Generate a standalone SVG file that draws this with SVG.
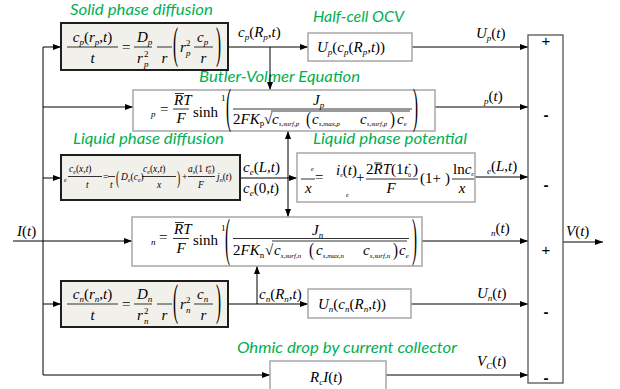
<svg xmlns="http://www.w3.org/2000/svg" width="620" height="389" viewBox="0 0 620 389">
<defs>
<marker id="ah" markerUnits="userSpaceOnUse" markerWidth="8" markerHeight="6" refX="8" refY="3" orient="auto"><path d="M0,0 L8,3 L0,6 z" fill="#000"/></marker>
<style>
.thick{fill:#f1f0eb;stroke:#1e1e1e;stroke-width:2}
.gbox{fill:#fff;stroke:#a6a6a6;stroke-width:1.5}
.sum{fill:#fff;stroke:#555;stroke-width:1.3}
.c{fill:none;stroke:#000;stroke-width:1}
.fl{stroke:#000;stroke-width:0.8}
.g{font-family:Lato,"Open Sans",sans-serif;font-style:italic;font-size:16px;fill:#00b050}
.m{font-family:"Liberation Serif",serif;font-style:italic;font-size:15px;fill:#000}
.u{font-style:normal}
.s{font-size:9px}
.t{font-size:7px}
.sm{font-size:9.5px}
.tn{font-size:6px}
.sg{font-family:"Liberation Sans",sans-serif;font-size:15px;fill:#000;text-anchor:middle}
</style>
</defs>

<g id="titles">
<text class="g" x="70" y="15" font-size="15" textLength="143" lengthAdjust="spacingAndGlyphs">Solid phase diffusion</text>
<text class="g" x="313" y="22" textLength="91" lengthAdjust="spacingAndGlyphs">Half-cell OCV</text>
<text class="g" x="199" y="82" textLength="161" lengthAdjust="spacingAndGlyphs">Butler-Volmer Equation</text>
<text class="g" x="73" y="144" font-size="15" textLength="151" lengthAdjust="spacingAndGlyphs">Liquid phase diffusion</text>
<text class="g" x="313" y="144" font-size="15" textLength="154" lengthAdjust="spacingAndGlyphs">Liquid phase potential</text>
<text class="g" x="237" y="353" textLength="220" lengthAdjust="spacingAndGlyphs">Ohmic drop by current collector</text>
</g>

<g id="connectors">
<path class="c" d="M43,47 V375"/>
<path class="c" d="M43,47 H61" marker-end="url(#ah)"/>
<path class="c" d="M43,107 H133" marker-end="url(#ah)"/>
<path class="c" d="M43,178 H61" marker-end="url(#ah)"/>
<path class="c" d="M13,241 H132" marker-end="url(#ah)"/>
<path class="c" d="M43,304 H61" marker-end="url(#ah)"/>
<path class="c" d="M43,375 H270" marker-end="url(#ah)"/>
<path class="c" d="M228,47 H308" marker-end="url(#ah)"/>
<path class="c" d="M270,47 V90" marker-end="url(#ah)"/>
<path class="c" d="M412,47 H528" marker-end="url(#ah)"/>
<path class="c" d="M435,107 H528" marker-end="url(#ah)"/>
<path class="c" d="M240,178 H297" marker-end="url(#ah)"/>
<path class="c" d="M288,178 V131" marker-end="url(#ah)"/>
<path class="c" d="M288,178 V217" marker-end="url(#ah)"/>
<path class="c" d="M475,177 H528" marker-end="url(#ah)"/>
<path class="c" d="M422,241 H528" marker-end="url(#ah)"/>
<path class="c" d="M228,304 H308" marker-end="url(#ah)"/>
<path class="c" d="M257,304 V266" marker-end="url(#ah)"/>
<path class="c" d="M411,304 H528" marker-end="url(#ah)"/>
<path class="c" d="M386,375 H528" marker-end="url(#ah)"/>
<path class="c" d="M563,242 H603" marker-end="url(#ah)"/>
</g>

<g id="edge-labels">
<text class="m" x="238" y="37">c<tspan class="s" dy="3">p</tspan><tspan class="u" dy="-3">(</tspan>R<tspan class="s" dy="3">p</tspan><tspan class="u" dy="-3">,</tspan>t<tspan class="u">)</tspan></text>
<text class="m" x="476" y="38">U<tspan class="s" dy="3">p</tspan><tspan class="u" dy="-3">(</tspan>t<tspan class="u">)</tspan></text>
<text class="m" x="484" y="101"><tspan class="s" dy="3">p</tspan><tspan class="u" dy="-3">(</tspan>t<tspan class="u">)</tspan></text>
<text class="m" x="243" y="172">c<tspan class="s" dy="3">e</tspan><tspan class="u" dy="-3">(</tspan>L<tspan class="u">,</tspan>t<tspan class="u">)</tspan></text>
<text class="m" x="243" y="193">c<tspan class="s" dy="3">e</tspan><tspan class="u" dy="-3">(0,</tspan>t<tspan class="u">)</tspan></text>
<text class="m" x="487" y="171"><tspan class="s" dy="3">e</tspan><tspan class="u" dy="-3">(</tspan>L<tspan class="u">,</tspan>t<tspan class="u">)</tspan></text>
<text class="m" x="17" y="236">I<tspan class="u">(</tspan>t<tspan class="u">)</tspan></text>
<text class="m" x="491" y="233"><tspan class="s" dy="3">n</tspan><tspan class="u" dy="-3">(</tspan>t<tspan class="u">)</tspan></text>
<text class="m" x="566" y="236">V<tspan class="u">(</tspan>t<tspan class="u">)</tspan></text>
<text class="m" x="259" y="299">c<tspan class="s" dy="3">n</tspan><tspan class="u" dy="-3">(</tspan>R<tspan class="s" dy="3">n</tspan><tspan class="u" dy="-3">,</tspan>t<tspan class="u">)</tspan></text>
<text class="m" x="477" y="298">U<tspan class="s" dy="3">n</tspan><tspan class="u" dy="-3">(</tspan>t<tspan class="u">)</tspan></text>
<text class="m" x="477" y="366">V<tspan class="s" dy="3">C</tspan><tspan class="u" dy="-3">(</tspan>t<tspan class="u">)</tspan></text>
</g>

<g id="solid-p">
<rect class="thick" x="61" y="23" width="167" height="47"/>
<text class="m" x="92.5" y="42" text-anchor="middle">c<tspan class="s" dy="3">p</tspan><tspan class="u" dy="-3">(</tspan>r<tspan class="s" dy="3">p</tspan><tspan class="u" dy="-3">,</tspan>t<tspan class="u">)</tspan></text>
<line class="fl" x1="67" y1="47" x2="118" y2="47"/>
<text class="m" x="92.5" y="63" text-anchor="middle">t</text>
<text class="m u" x="122" y="52">=</text>
<text class="m" x="137" y="42">D<tspan class="s" dy="3">p</tspan></text>
<line class="fl" x1="134" y1="47" x2="152" y2="47"/>
<text class="m" x="137" y="63">r</text><text class="m u s" x="144" y="57">2</text><text class="m s" x="144" y="67">p</text>
<line class="fl" x1="157" y1="47" x2="172" y2="47"/>
<text class="m" x="164.5" y="63" text-anchor="middle">r</text>
<text class="m u" transform="translate(173,58) scale(1,3)">(</text>
<text class="m" x="180" y="52">r</text><text class="m u s" x="186" y="46">2</text><text class="m s" x="186" y="56">p</text>
<line class="fl" x1="194" y1="47" x2="213" y2="47"/>
<text class="m" x="197" y="42">c<tspan class="s" dy="3">p</tspan></text>
<text class="m" x="203.5" y="63" text-anchor="middle">r</text>
<text class="m u" transform="translate(216,58) scale(1,3)">)</text>
</g>

<g id="solid-n" transform="translate(0,257)">
<rect class="thick" x="61" y="24" width="167" height="46"/>
<text class="m" x="92.5" y="42" text-anchor="middle">c<tspan class="s" dy="3">n</tspan><tspan class="u" dy="-3">(</tspan>r<tspan class="s" dy="3">n</tspan><tspan class="u" dy="-3">,</tspan>t<tspan class="u">)</tspan></text>
<line class="fl" x1="67" y1="47" x2="118" y2="47"/>
<text class="m" x="92.5" y="63" text-anchor="middle">t</text>
<text class="m u" x="122" y="52">=</text>
<text class="m" x="137" y="42">D<tspan class="s" dy="3">n</tspan></text>
<line class="fl" x1="134" y1="47" x2="152" y2="47"/>
<text class="m" x="137" y="63">r</text><text class="m u s" x="144" y="57">2</text><text class="m s" x="144" y="67">n</text>
<line class="fl" x1="157" y1="47" x2="172" y2="47"/>
<text class="m" x="164.5" y="63" text-anchor="middle">r</text>
<text class="m u" transform="translate(173,58) scale(1,3)">(</text>
<text class="m" x="180" y="52">r</text><text class="m u s" x="186" y="46">2</text><text class="m s" x="186" y="56">n</text>
<line class="fl" x1="194" y1="47" x2="213" y2="47"/>
<text class="m" x="197" y="42">c<tspan class="s" dy="3">n</tspan></text>
<text class="m" x="203.5" y="63" text-anchor="middle">r</text>
<text class="m u" transform="translate(216,58) scale(1,3)">)</text>
</g>

<g id="half-cell-ocv-p">
<rect class="gbox" x="308" y="33" width="104" height="28"/>
<text class="m" x="317" y="52">U<tspan class="s" dy="3">p</tspan><tspan class="u" dy="-3">(</tspan>c<tspan class="s" dy="3">p</tspan><tspan class="u" dy="-3">(</tspan>R<tspan class="s" dy="3">p</tspan><tspan class="u" dy="-3">,</tspan>t<tspan class="u">))</tspan></text>
</g>

<g id="butler-volmer-p">
<rect class="gbox" x="133" y="90" width="302" height="41"/>
<text class="m s" x="151" y="117">p</text>
<text class="m u" x="160" y="114">=</text>
<text class="m" x="174" y="105">RT</text>
<line class="fl" x1="175" y1="93.5" x2="184" y2="93.5"/>
<line class="fl" x1="173" y1="109" x2="189" y2="109"/>
<text class="m" x="181" y="123" text-anchor="middle">F</text>
<text class="m u" x="193" y="117" font-size="14">sinh</text>
<text class="m u s" x="221" y="101">1</text>
<text class="m u" transform="translate(226,121.5) scale(1,3.2)">(</text>
<text class="m" x="313" y="105">J<tspan class="s" dy="3">p</tspan></text>
<line class="fl" x1="233" y1="109" x2="412" y2="109"/>
<text class="m u" x="233" y="124" font-size="14">2<tspan class="m" font-size="14">FK</tspan><tspan class="s" dy="2">p</tspan></text>
<text class="m u" x="264" y="124">√</text>
<line class="fl" x1="271" y1="111" x2="410" y2="111"/>
<text class="m" x="272" y="124">c<tspan class="t" dy="2">s,surf,p</tspan></text>
<text class="m u" transform="translate(306,125) scale(1,1.3)">(</text>
<text class="m" x="312" y="124">c<tspan class="t" dy="2">s,max,p</tspan></text>
<text class="m" x="360" y="124">c<tspan class="t" dy="2">s,surf,p</tspan></text>
<text class="m u" transform="translate(390,125) scale(1,1.3)">)</text>
<text class="m" x="397" y="124">c<tspan class="t" dy="2">e</tspan></text>
<text class="m u" transform="translate(413,121.5) scale(1,3.2)">)</text>
</g>

<g id="liquid-diffusion">
<rect class="thick" x="61" y="155" width="179" height="45"/>
<text class="m tn" x="64" y="182">e</text>
<text class="m sm" x="69" y="172">c<tspan class="tn" dy="2">e</tspan><tspan class="u" dy="-2">(</tspan>x<tspan class="u">,</tspan>t<tspan class="u">)</tspan></text>
<line class="fl" x1="68" y1="176.5" x2="102" y2="176.5" stroke-width="0.6"/>
<text class="m sm" x="86" y="188">t</text>
<text class="m u sm" x="103" y="180">=</text>
<line class="fl" x1="108" y1="176.5" x2="115" y2="176.5" stroke-width="0.6"/>
<text class="m sm" x="110" y="188">t</text>
<text class="m u sm" transform="translate(116,184) scale(1,2)">(</text>
<text class="m sm" x="121" y="180">D<tspan class="tn" dy="2">e</tspan><tspan class="u" dy="-2">(</tspan>c<tspan class="tn" dy="2">e</tspan><tspan class="u" dy="-2">)</tspan></text>
<text class="m sm" x="143" y="172">c<tspan class="tn" dy="2">e</tspan><tspan class="u" dy="-2">(</tspan>x<tspan class="u">,</tspan>t<tspan class="u">)</tspan></text>
<line class="fl" x1="142" y1="176.5" x2="176" y2="176.5" stroke-width="0.6"/>
<text class="m sm" x="157" y="188">x</text>
<text class="m u sm" transform="translate(177,184) scale(1,2)">)</text>
<text class="m u sm" x="182" y="180">+</text>
<text class="m sm" x="188" y="172">a<tspan class="tn" dy="2">s</tspan><tspan class="u" dy="-2">(1   </tspan>t<tspan class="tn" dy="2">0</tspan><tspan class="tn u" dx="-3" dy="-5">+</tspan><tspan class="u" dy="3">)</tspan></text>
<line class="fl" x1="188" y1="176.5" x2="215" y2="176.5" stroke-width="0.6"/>
<text class="m sm" x="198" y="188">F</text>
<text class="m sm" x="217" y="180">j<tspan class="tn" dy="2">n</tspan><tspan class="u" dy="-2">(</tspan>t<tspan class="u">)</tspan></text>
</g>

<g id="liquid-potential">
<rect class="gbox" x="297" y="153" width="178" height="49"/>
<text class="m tn" x="311" y="171">e</text>
<line class="fl" x1="301" y1="179" x2="315" y2="179"/>
<text class="m u" x="315" y="182" font-size="12">=</text>
<text class="m" x="305" y="193" font-size="13">x</text>
<text class="m" x="336" y="175" font-size="13">i<tspan class="tn" dy="2">e</tspan><tspan class="u" dy="-2">(</tspan>t<tspan class="u">)</tspan></text>
<text class="m tn" x="346" y="197">e</text>
<text class="m u" x="356" y="182" font-size="13">+</text>
<text class="m u" x="366" y="174" font-size="13">2<tspan class="m">RT</tspan>(1</text>
<line class="fl" x1="374" y1="163" x2="382" y2="163"/>
<text class="m" x="404" y="174" font-size="13">t</text><text class="m u tn" x="408" y="167">+</text><text class="m u tn" x="408" y="177">0</text>
<text class="m u" x="413" y="174" font-size="13">)</text>
<line class="fl" x1="366" y1="179" x2="418" y2="179"/>
<text class="m" x="391" y="193" font-size="13" text-anchor="middle">F</text>
<text class="m u" x="420" y="183" font-size="13">(1+</text>
<text class="m u" x="445" y="183" font-size="13">)</text>
<text class="m u" x="453" y="174" font-size="13">ln<tspan class="m">c</tspan><tspan class="m tn" dy="2">e</tspan></text>
<line class="fl" x1="452" y1="179" x2="474" y2="179"/>
<text class="m" x="462" y="193" font-size="13" text-anchor="middle">x</text>
</g>

<g id="butler-volmer-n">
<rect class="gbox" x="132" y="217" width="290" height="49"/>
<text class="m s" x="151" y="245">n</text>
<text class="m u" x="159" y="242">=</text>
<text class="m" x="174" y="234">RT</text>
<line class="fl" x1="175" y1="222.5" x2="184" y2="222.5"/>
<line class="fl" x1="173" y1="238.5" x2="189" y2="238.5"/>
<text class="m" x="181" y="253" text-anchor="middle">F</text>
<text class="m u" x="193" y="245" font-size="14">sinh</text>
<text class="m u s" x="221" y="231">1</text>
<text class="m u" transform="translate(225,254.5) scale(1,3.5)">(</text>
<text class="m" x="312" y="235">J<tspan class="s" dy="3">n</tspan></text>
<line class="fl" x1="233" y1="238.5" x2="409" y2="238.5"/>
<text class="m u" x="233" y="255" font-size="14">2<tspan class="m" font-size="14">FK</tspan><tspan class="s" dy="3">n</tspan></text>
<text class="m u" x="265" y="255">√</text>
<line class="fl" x1="272" y1="241" x2="407" y2="241"/>
<text class="m" x="274" y="255">c<tspan class="t" dy="3">s,surf,n</tspan></text>
<text class="m u" transform="translate(309,256) scale(1,1.3)">(</text>
<text class="m" x="316" y="255">c<tspan class="t" dy="3">s,max,n</tspan></text>
<text class="m" x="363" y="255">c<tspan class="t" dy="3">s,surf,n</tspan></text>
<text class="m u" transform="translate(393,256) scale(1,1.3)">)</text>
<text class="m" x="399" y="255">c<tspan class="t" dy="3">e</tspan></text>
<text class="m u" transform="translate(412,254.5) scale(1,3.5)">)</text>
</g>

<g id="half-cell-ocv-n">
<rect class="gbox" x="308" y="289" width="103" height="29"/>
<text class="m" x="318" y="309">U<tspan class="s" dy="3">n</tspan><tspan class="u" dy="-3">(</tspan>c<tspan class="s" dy="3">n</tspan><tspan class="u" dy="-3">(</tspan>R<tspan class="s" dy="3">n</tspan><tspan class="u" dy="-3">,</tspan>t<tspan class="u">))</tspan></text>
</g>

<g id="ohmic-drop">
<rect class="gbox" x="270" y="361" width="116" height="29"/>
<text class="m" x="310" y="382">R<tspan class="s" dy="3">c</tspan><tspan dy="-3">I</tspan><tspan class="u">(</tspan>t<tspan class="u">)</tspan></text>
</g>

<g id="summing-block">
<rect class="sum" x="528" y="35" width="35" height="348"/>
<text class="sg" x="546" y="46">+</text>
<text class="sg" x="546" y="120" font-weight="bold">-</text>
<text class="sg" x="546" y="190" font-weight="bold">-</text>
<text class="sg" x="546" y="255">+</text>
<text class="sg" x="546" y="317" font-weight="bold">-</text>
<text class="sg" x="546" y="383" font-weight="bold">-</text>
</g>
</svg>
